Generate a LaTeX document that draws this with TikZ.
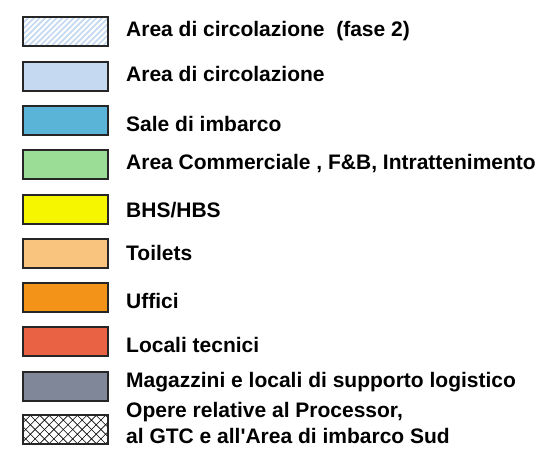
\documentclass[tikz,border=0pt]{standalone}
\usepackage{fontspec}
\setmainfont{Liberation Sans}
\usetikzlibrary{positioning}

\definecolor{circolazione}{HTML}{C5D9F1}
\definecolor{imbarco}{HTML}{5AB4D7}
\definecolor{commerciale}{HTML}{9BDC97}
\definecolor{bhs}{HTML}{F6F600}
\definecolor{toilets}{HTML}{F8C47E}
\definecolor{uffici}{HTML}{F39318}
\definecolor{tecnici}{HTML}{EA6244}
\definecolor{magazzini}{HTML}{7F8799}

\tikzset{
  swatch/.style={draw=black!85, line width=1.3pt, minimum width=85pt, minimum height=29pt, inner sep=0pt},
  legtext/.style={anchor=base west, inner sep=0pt, align=left, font=\fontsize{21}{26.5}\selectfont\bfseries},
  fase/.style={path picture={
      \foreach \i in {0,...,22}
        \draw[circolazione, line width=1.7pt]
          ([xshift=\i*5.7pt-40pt]path picture bounding box.south west) -- ++(40pt,40pt);
    }},
  opere/.style={path picture={
      \foreach \i in {0,...,14} {
        \draw[black, line width=0.6pt]
          ([xshift=\i*9.4pt-40pt]path picture bounding box.south west) -- ++(40pt,40pt);
        \draw[black, line width=0.6pt]
          ([xshift=\i*9.4pt-40pt]path picture bounding box.north west) -- ++(40pt,-40pt);
      }
    }}
}

\begin{document}
\begin{tikzpicture}[x=1pt, y=-1pt]
  \useasboundingbox (0,0) rectangle (540,455);

  % swatches
  \node[swatch, fill=white, fase] (s1) at (65.5,31.5) {};
  \node[swatch, fill=circolazione] (s2) at (65.5,76.5) {};
  \node[swatch, fill=imbarco] (s3) at (65.5,120.5) {};
  \node[swatch, fill=commerciale] (s4) at (65.5,164.5) {};
  \node[swatch, fill=bhs] (s5) at (65.5,209.5) {};
  \node[swatch, fill=toilets] (s6) at (65.5,253.5) {};
  \node[swatch, fill=uffici] (s7) at (65.5,297.5) {};
  \node[swatch, fill=tecnici] (s8) at (65.5,341.5) {};
  \node[swatch, fill=magazzini] (s9) at (65.5,386.5) {};
  \node[swatch, fill=white, opere] (s10) at (65.5,429.5) {};

  % labels
  \node[legtext] (t1) at (126,36.3) {Area di circolazione\ \ (fase 2)};
  \node[legtext] (t2) at (126,81.8) {Area di circolazione};
  \node[legtext] (t3) at (126,131.3) {Sale di imbarco};
  \node[legtext] (t4) at (126,169.3) {Area Commerciale , F\&B, Intrattenimento};
  \node[legtext] (t5) at (126,217.3) {BHS/HBS};
  \node[legtext] (t6) at (126,260.3) {Toilets};
  \node[legtext] (t7) at (126,308.8) {Uffici};
  \node[legtext] (t8) at (126,352.3) {Locali tecnici};
  \node[legtext] (t9) at (126,387.3) {Magazzini e locali di supporto logistico};
  \node[legtext] (t10) at (126,443.8) {Opere relative al Processor,\\al GTC e all\textquotesingle Area di imbarco Sud};
\end{tikzpicture}
\end{document}
